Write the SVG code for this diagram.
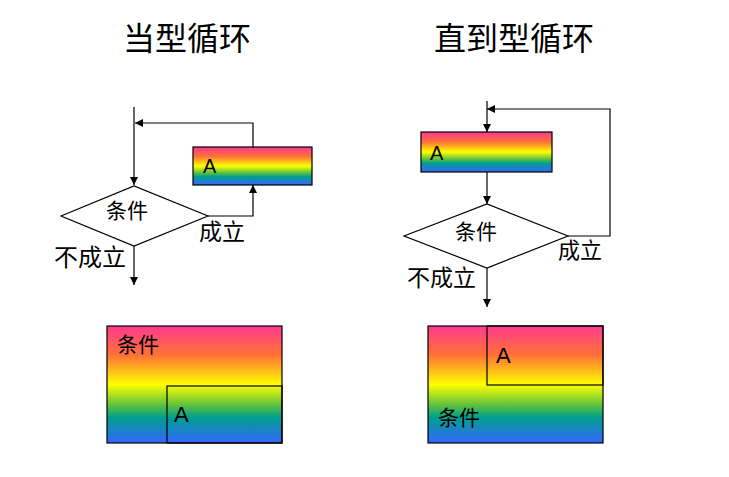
<svg xmlns="http://www.w3.org/2000/svg" width="729" height="477" viewBox="0 0 729 477">
<defs>
<linearGradient id="rb" x1="0" y1="0" x2="0" y2="1">
<stop offset="0" stop-color="#ff3a8e"/>
<stop offset="0.25" stop-color="#ff7236"/>
<stop offset="0.5" stop-color="#ffff00"/>
<stop offset="0.68" stop-color="#5cc040"/>
<stop offset="0.78" stop-color="#00a08c"/>
<stop offset="1" stop-color="#3366ff"/>
</linearGradient>
<marker id="ar" viewBox="0 0 10 10" refX="10" refY="5" markerWidth="8" markerHeight="8" markerUnits="userSpaceOnUse" orient="auto">
<path d="M0,0 L10,5 L0,10 z" fill="#000"/>
</marker>
<style>
.ln{fill:none;stroke:#000;stroke-width:1.2}
.box{stroke:#000;stroke-width:1.2;fill:url(#rb)}
.dia{fill:#fff;stroke:#000;stroke-width:1.2}
.t{font-family:"Liberation Sans","Noto Sans CJK SC",sans-serif;fill:#000}
.title{font-family:"Liberation Serif","Noto Sans CJK SC",serif;font-size:32px;fill:#000}
</style>
</defs>
<rect width="729" height="477" fill="#fff"/>
<text class="title" x="123" y="50">当型循环</text>
<text class="title" x="434" y="50">直到型循环</text>

<g id="connectors">
<path class="ln" d="M134,107 V185" marker-end="url(#ar)"/>
<path class="ln" d="M253,147 V123 H135" marker-end="url(#ar)"/>
<path class="ln" d="M208,216 H253 V185" marker-end="url(#ar)"/>
<path class="ln" d="M134,246 V285" marker-end="url(#ar)"/>
<path class="ln" d="M487,101 V132" marker-end="url(#ar)"/>
<path class="ln" d="M487,172 V204" marker-end="url(#ar)"/>
<path class="ln" d="M568,236 H610 V109 H487" marker-end="url(#ar)"/>
<path class="ln" d="M487,268 V307" marker-end="url(#ar)"/>
</g>

<g id="left-A">
<rect class="box" x="193" y="147" width="119" height="38"/>
<text class="t" x="203" y="173" font-size="20">A</text>
</g>
<g id="left-cond">
<polygon class="dia" points="61,216 134,186 208,216 134,246"/>
<text class="t" x="106" y="218" font-size="21">条件</text>
</g>
<text class="t" x="199" y="240" font-size="23">成立</text>
<text class="t" x="54" y="266" font-size="24">不成立</text>

<g id="right-A">
<rect class="box" x="421" y="132" width="131" height="40"/>
<text class="t" x="430" y="160" font-size="20">A</text>
</g>
<g id="right-cond">
<polygon class="dia" points="404,236 487,204 568,236 487,268"/>
<text class="t" x="455" y="239" font-size="21">条件</text>
</g>
<text class="t" x="558" y="258" font-size="22">成立</text>
<text class="t" x="407" y="286" font-size="23">不成立</text>

<g id="ns-left">
<rect class="box" x="107" y="326" width="175" height="117"/>
<rect class="ln" x="167" y="386" width="115" height="57"/>
<text class="t" x="117" y="352" font-size="21">条件</text>
<text class="t" x="174" y="422" font-size="22">A</text>
</g>
<g id="ns-right">
<rect class="box" x="428" y="326" width="175" height="117"/>
<rect class="ln" x="487" y="326" width="116" height="59"/>
<text class="t" x="496" y="363" font-size="22">A</text>
<text class="t" x="438" y="425" font-size="21">条件</text>
</g>
</svg>
